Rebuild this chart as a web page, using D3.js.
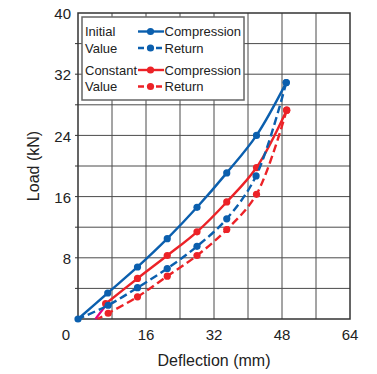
<!DOCTYPE html>
<html>
<head>
<meta charset="utf-8">
<script src="https://cdn.jsdelivr.net/npm/d3@7"></script>
<style>
  html, body { margin: 0; padding: 0; background: #fff; }
  svg { display: block; font-family: "Liberation Sans", Arial, Helvetica, sans-serif; }
</style>
</head>
<body>
<svg id="chart" width="377" height="374"></svg>
<script>
// Deflection (mm) / load (kN) measurements
const initialCompression = [[0, 0], [7, 3.4], [14, 6.8], [21, 10.5], [28, 14.6], [35, 19.1], [42, 24], [49, 30.9]];
const initialReturn = [[49, 30.9], [41.9, 18.7], [35, 13.1], [28, 9.5], [21, 6.6], [14, 4.1], [7.1, 1.8], [0, 0]];
const constantCompression = [[6.5, 2.0], [14, 5.3], [21, 8.3], [28, 11.4], [35, 15.3], [42, 19.8], [49.1, 27.3]];
const constantReturn = [[49.1, 27.3], [42, 16.3], [35, 11.7], [28, 8.3], [21, 5.6], [14, 2.9], [7.1, 0.75], [4.6, 0]];
const residualSet = [[4.1, 0], [6.3, 1.6]];

const xTicks = [16, 32, 48, 64];
const yTicks = [8, 16, 24, 32, 40];
const xGrid = [8, 16, 24, 32, 40, 48, 56];
const yGrid = [4, 8, 12, 16, 20, 24, 28, 32, 36];
const yMinorTicks = [4, 8, 12, 16, 20, 24, 28, 32, 36];

const legendGroups = ["Initial", "Value", "Constant", "Value"];
const legendItems = ["Compression", "Return", "Compression", "Return"];

const BLUE = "#0b5fae";
const RED = "#ec2227";
const MAGENTA = "#e6007e";

const svg = d3.select("#chart");
const plotL = 78, plotR = 350, plotT = 13, plotB = 319;

const x = d3.scaleLinear().domain([0, 64]).range([plotL, plotR]);
const y = d3.scaleLinear().domain([0, 40]).range([plotB, plotT]);

// grid
const grid = svg.append("g").attr("stroke", "#4a4a4a").attr("stroke-width", 1);
grid.selectAll("line.v").data(xGrid).join("line")
  .attr("x1", d => x(d)).attr("x2", d => x(d))
  .attr("y1", plotT).attr("y2", plotB);
grid.selectAll("line.h").data(yGrid).join("line")
  .attr("x1", plotL).attr("x2", plotR)
  .attr("y1", d => y(d)).attr("y2", d => y(d));

// frame
svg.append("rect")
  .attr("x", plotL).attr("y", plotT)
  .attr("width", plotR - plotL).attr("height", plotB - plotT)
  .attr("fill", "none").attr("stroke", "#333").attr("stroke-width", 1.5);

// small outward ticks on the load axis
svg.append("g").attr("stroke", "#333").attr("stroke-width", 1)
  .selectAll("line").data(yMinorTicks).join("line")
  .attr("x1", plotL - 3).attr("x2", plotL)
  .attr("y1", d => y(d)).attr("y2", d => y(d));

// tick labels
const tickFont = 15;
svg.append("g").selectAll("text").data(xTicks).join("text")
  .attr("x", d => x(d)).attr("y", 340)
  .attr("text-anchor", "middle").attr("font-size", tickFont).attr("fill", "#222")
  .text(d => d);
svg.append("g").selectAll("text").data(yTicks).join("text")
  .attr("x", 71).attr("y", d => y(d) + 1).attr("dy", "0.35em")
  .attr("text-anchor", "end").attr("font-size", tickFont).attr("fill", "#222")
  .text(d => d);
svg.append("text").attr("x", 66).attr("y", 340)
  .attr("text-anchor", "middle").attr("font-size", tickFont).attr("fill", "#222")
  .text(0);

// axis titles
svg.append("text").attr("x", (plotL + plotR) / 2).attr("y", 366)
  .attr("text-anchor", "middle").attr("font-size", 16).attr("fill", "#222")
  .text("Deflection (mm)");
svg.append("text")
  .attr("transform", `translate(39,${(plotT + plotB) / 2}) rotate(-90)`)
  .attr("text-anchor", "middle").attr("font-size", 16).attr("fill", "#222")
  .text("Load (kN)");

// curves
const line = d3.line().x(d => x(d[0])).y(d => y(d[1])).curve(d3.curveCatmullRom.alpha(0.5));
const series = [
  { data: constantReturn, color: RED, dash: "8,4", dots: constantReturn.slice(0, -1) },
  { data: constantCompression, color: RED, dash: null, dots: constantCompression },
  { data: initialReturn, color: BLUE, dash: "8,4", dots: initialReturn.slice(0, -1) },
  { data: initialCompression, color: BLUE, dash: null, dots: initialCompression }
];

svg.append("path").datum(residualSet)
  .attr("d", d3.line().x(d => x(d[0])).y(d => y(d[1])))
  .attr("fill", "none").attr("stroke", MAGENTA).attr("stroke-width", 2.2);

series.forEach(s => {
  svg.append("path").datum(s.data)
    .attr("d", line)
    .attr("fill", "none").attr("stroke", s.color).attr("stroke-width", 2.4)
    .attr("stroke-dasharray", s.dash);
  svg.append("g").selectAll("circle").data(s.dots).join("circle")
    .attr("cx", d => x(d[0])).attr("cy", d => y(d[1])).attr("r", 3.6)
    .attr("fill", s.color);
});

// legend
const lg = svg.append("g");
lg.append("rect").attr("x", 82).attr("y", 17).attr("width", 162).attr("height", 83)
  .attr("fill", "#fff").attr("stroke", "#666").attr("stroke-width", 1.5);
const rowY = [31.5, 48, 70, 86.5];
const rowColor = [BLUE, BLUE, RED, RED];
const rowDash = [null, "6,3", null, "6,3"];
lg.selectAll("text.group").data(legendGroups).join("text")
  .attr("x", 85).attr("y", (d, i) => rowY[i] + 4.5)
  .attr("font-size", 13).attr("fill", "#222").text(d => d);
legendItems.forEach((t, i) => {
  lg.append("line").attr("x1", 138).attr("x2", 164)
    .attr("y1", rowY[i]).attr("y2", rowY[i])
    .attr("stroke", rowColor[i]).attr("stroke-width", 2.4)
    .attr("stroke-dasharray", rowDash[i]);
  lg.append("circle").attr("cx", 150.5).attr("cy", rowY[i]).attr("r", 3.6).attr("fill", rowColor[i]);
  lg.append("text").attr("x", 164.5).attr("y", rowY[i] + 4.5)
    .attr("font-size", 13).attr("fill", "#222").text(t);
});
</script>
</body>
</html>
